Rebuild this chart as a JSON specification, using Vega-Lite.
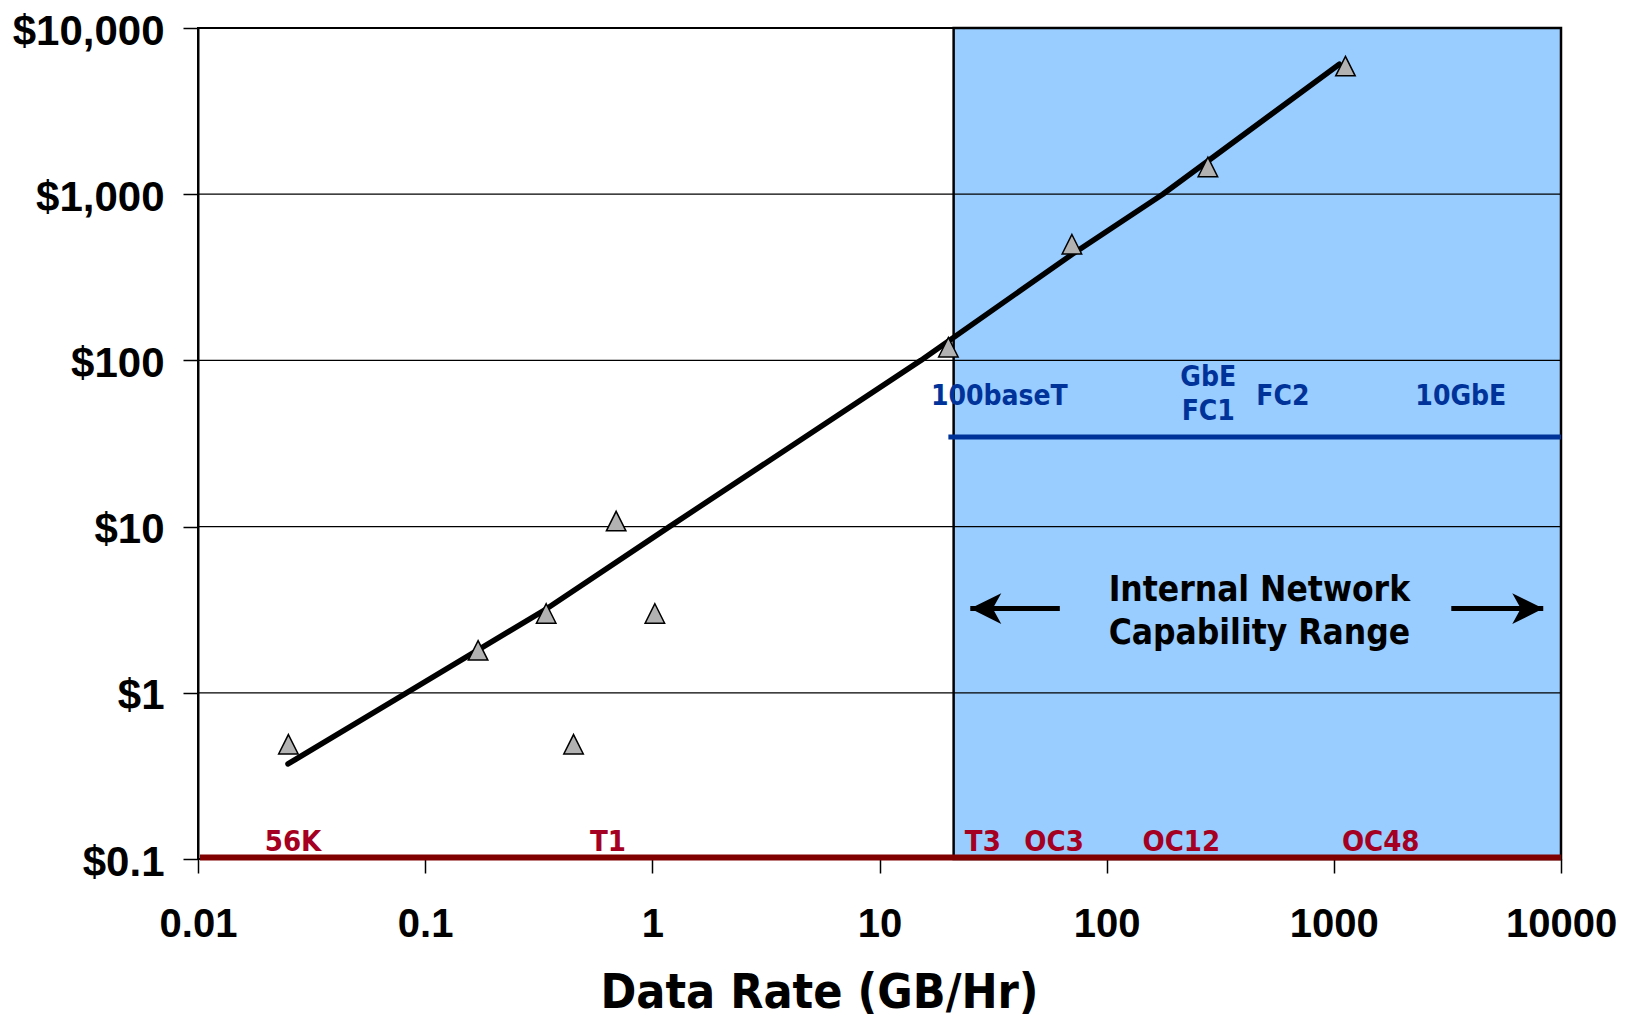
{
  "$schema": "https://vega.github.io/schema/vega-lite/v6.json",
  "width": 1363,
  "height": 831,
  "autosize": "none",
  "padding": {"left": 198, "top": 28, "right": 79, "bottom": 159},
  "background": "white",
  "config": {"view": {"stroke": "black", "strokeWidth": 2}},
  "datasets": {
    "points": [
      {"x": 0.025, "y": 0.49},
      {"x": 0.171, "y": 1.8},
      {"x": 0.341, "y": 3.0},
      {"x": 0.45, "y": 0.49},
      {"x": 0.693, "y": 10.8},
      {"x": 1.026, "y": 3.0},
      {"x": 20.1, "y": 120},
      {"x": 70.3, "y": 500},
      {"x": 279, "y": 1460},
      {"x": 1125, "y": 5900}
    ],
    "trend": [
      {"x": 0.0249, "y": 0.373},
      {"x": 0.0828, "y": 1},
      {"x": 0.341, "y": 3.19},
      {"x": 1.19, "y": 10},
      {"x": 15.2, "y": 100},
      {"x": 70.5, "y": 435},
      {"x": 176.6, "y": 1000},
      {"x": 1057, "y": 6053}
    ],
    "grid": [
      {"x": 0.01, "x2": 10000, "y": 1},
      {"x": 0.01, "x2": 10000, "y": 10},
      {"x": 0.01, "x2": 10000, "y": 100},
      {"x": 0.01, "x2": 10000, "y": 1000},
      {"x": 0.01, "x2": 10000, "y": 10000}
    ],
    "region": [{"x": 21.2, "x2": 10000, "y": 0.1, "y2": 10000}],
    "bands": [
      {"name": "LAN", "x": 20.1, "x2": 10000, "y": 34.6},
      {"name": "WAN", "x": 0.0102, "x2": 10000, "y": 0.102}
    ],
    "labels": [
      {"label": "100baseT", "x": 33.7, "y": 54.1, "group": "blue"},
      {"label": "GbE", "x": 280, "y": 69.8, "group": "blue"},
      {"label": "FC1", "x": 280, "y": 44.0, "group": "blue"},
      {"label": "FC2", "x": 597, "y": 54.1, "group": "blue"},
      {"label": "10GbE", "x": 3623, "y": 54.1, "group": "blue"},
      {"label": "56K", "x": 0.0262, "y": 0.111, "group": "red"},
      {"label": "T1", "x": 0.638, "y": 0.111, "group": "red"},
      {"label": "T3", "x": 28.5, "y": 0.111, "group": "red"},
      {"label": "OC3", "x": 58.7, "y": 0.111, "group": "red"},
      {"label": "OC12", "x": 213, "y": 0.111, "group": "red"},
      {"label": "OC48", "x": 1608, "y": 0.111, "group": "red"},
      {"label": "Internal Network", "x": 470, "y": 3.55, "group": "black"},
      {"label": "Capability Range", "x": 470, "y": 1.975, "group": "black"}
    ],
    "arrows": [
      {"x": 25.1, "x2": 62.2, "y": 3.21, "dir": "left"},
      {"x": 8353, "x2": 3289, "y": 3.21, "dir": "right"}
    ]
  },
  "encoding": {
    "x": {
      "field": "x",
      "type": "quantitative",
      "scale": {"type": "log", "domain": [0.01, 10000], "nice": false, "zero": false},
      "axis": {
        "values": [0.01, 0.1, 1, 10, 100, 1000, 10000],
        "labelExpr": "format(datum.value, '~g')",
        "grid": false,
        "domain": false,
        "tickSize": 14,
        "tickColor": "black",
        "tickWidth": 1.5,
        "labelFont": "Liberation Sans",
        "labelFontWeight": "bold",
        "labelFontSize": 40,
        "labelColor": "black",
        "labelPadding": 31,
        "labelFlush": false,
        "labelOverlap": false,
        "title": "Data Rate (GB/Hr)",
        "titleFont": "DejaVu Sans Condensed, DejaVu Sans",
        "titleFontWeight": "bold",
        "titleFontSize": 48,
        "titleColor": "black",
        "titleX": 621,
        "titleY": 148,
        "titleBaseline": "alphabetic",
        "titleAlign": "center"
      }
    },
    "y": {
      "field": "y",
      "type": "quantitative",
      "scale": {"type": "log", "domain": [0.1, 10000], "nice": false, "zero": false},
      "axis": {
        "values": [0.1, 1, 10, 100, 1000, 10000],
        "labelExpr": "'$' + format(datum.value, ',')",
        "grid": false,
        "domainColor": "black",
        "domainWidth": 2,
        "tickSize": 15,
        "tickColor": "black",
        "tickWidth": 1.5,
        "labelFont": "Liberation Sans",
        "labelFontWeight": "bold",
        "labelFontSize": 42,
        "labelColor": "black",
        "labelPadding": 19,
        "labelOffset": 3,
        "labelFlush": false,
        "labelOverlap": false,
        "title": null
      }
    }
  },
  "layer": [
    {
      "data": {"name": "region"},
      "mark": {"type": "rect", "fill": "#99ccff", "stroke": "black", "strokeWidth": 2.5},
      "encoding": {"x2": {"field": "x2"}, "y2": {"field": "y2"}}
    },
    {
      "data": {"name": "grid"},
      "mark": {"type": "rule", "color": "black", "strokeWidth": 1.3},
      "encoding": {"x2": {"field": "x2"}}
    },
    {
      "data": {"name": "bands"},
      "transform": [{"filter": "datum.name == 'LAN'"}],
      "mark": {"type": "rule", "color": "#003399", "strokeWidth": 5},
      "encoding": {"x2": {"field": "x2"}}
    },
    {
      "data": {"name": "bands"},
      "transform": [{"filter": "datum.name == 'WAN'"}],
      "mark": {"type": "rule", "color": "#800000", "strokeWidth": 6},
      "encoding": {"x2": {"field": "x2"}}
    },
    {
      "data": {"name": "trend"},
      "mark": {"type": "line", "color": "black", "strokeWidth": 5.5, "strokeCap": "round", "strokeJoin": "round"},
      "encoding": {}
    },
    {
      "data": {"name": "points"},
      "mark": {"type": "point", "shape": "M0,-1L1,1L-1,1Z", "filled": true, "fill": "#b2b2b2", "stroke": "black", "strokeWidth": 1.5, "size": 380, "opacity": 1},
      "encoding": {}
    },
    {
      "data": {"name": "arrows"},
      "mark": {"type": "rule", "color": "black", "strokeWidth": 5},
      "encoding": {"x2": {"field": "x2"}}
    },
    {
      "data": {"name": "arrows"},
      "mark": {"type": "point", "filled": true, "color": "black", "opacity": 1, "size": 960},
      "encoding": {
        "shape": {
          "field": "dir",
          "type": "nominal",
          "scale": {"domain": ["left", "right"], "range": ["M0,0L2,-1L1.45,0L2,1Z", "M0,0L-2,-1L-1.45,0L-2,1Z"]},
          "legend": null
        }
      }
    },
    {
      "data": {"name": "labels"},
      "transform": [{"filter": "datum.group == 'blue'"}],
      "mark": {"type": "text", "font": "DejaVu Sans Condensed, DejaVu Sans", "fontWeight": "bold", "fontSize": 28, "color": "#003399", "align": "center", "baseline": "alphabetic"},
      "encoding": {"text": {"field": "label"}}
    },
    {
      "data": {"name": "labels"},
      "transform": [{"filter": "datum.group == 'red'"}],
      "mark": {"type": "text", "font": "DejaVu Sans Condensed, DejaVu Sans", "fontWeight": "bold", "fontSize": 29, "color": "#a50021", "align": "center", "baseline": "alphabetic"},
      "encoding": {"text": {"field": "label"}}
    },
    {
      "data": {"name": "labels"},
      "transform": [{"filter": "datum.group == 'black'"}],
      "mark": {"type": "text", "font": "DejaVu Sans Condensed, DejaVu Sans", "fontWeight": "bold", "fontSize": 35, "color": "black", "align": "center", "baseline": "alphabetic"},
      "encoding": {"text": {"field": "label"}}
    }
  ]
}
